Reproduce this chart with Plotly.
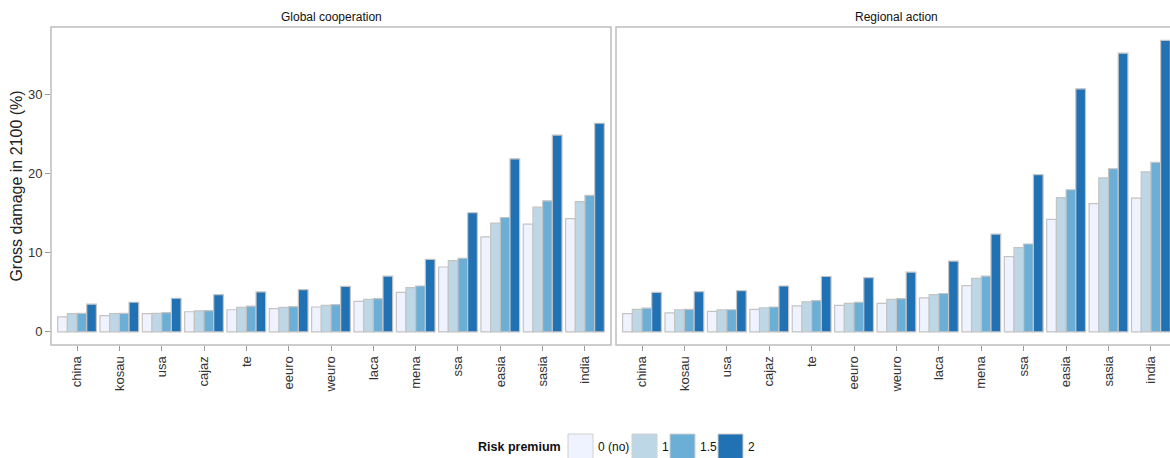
import plotly.graph_objects as go

regions = ["china", "kosau", "usa", "cajaz", "te", "eeuro", "weuro", "laca",
           "mena", "ssa", "easia", "sasia", "india"]
premium_labels = ["0 (no)", "1", "1.5", "2"]
premium_colors = ["#eff3ff", "#bdd7e7", "#6baed6", "#2171b5"]
panel_titles = ["Global cooperation", "Regional action"]

global_p0 = [1.9, 2.05, 2.3, 2.55, 2.8, 2.95, 3.15, 3.85, 5.0, 8.2, 12.0, 13.6, 14.3]
global_p1 = [2.3, 2.3, 2.35, 2.65, 3.1, 3.1, 3.35, 4.1, 5.6, 9.0, 13.75, 15.75, 16.45]
global_p15 = [2.35, 2.35, 2.45, 2.7, 3.25, 3.2, 3.45, 4.2, 5.8, 9.3, 14.45, 16.55, 17.25]
global_p2 = [3.5, 3.75, 4.25, 4.7, 5.05, 5.35, 5.75, 7.05, 9.15, 15.05, 21.85, 24.85, 26.35]

regional_p0 = [2.3, 2.4, 2.6, 2.85, 3.3, 3.35, 3.6, 4.3, 5.85, 9.5, 14.2, 16.2, 16.9]
regional_p1 = [2.85, 2.8, 2.8, 3.05, 3.8, 3.6, 4.1, 4.7, 6.75, 10.65, 16.95, 19.45, 20.2]
regional_p15 = [3.0, 2.85, 2.8, 3.15, 3.95, 3.75, 4.2, 4.85, 7.05, 11.1, 17.95, 20.6, 21.4]
regional_p2 = [5.0, 5.1, 5.2, 5.8, 7.0, 6.85, 7.55, 8.95, 12.35, 19.85, 30.7, 35.2, 36.8]

y_ticks = [0, 10, 20, 30]

global_series = [global_p0, global_p1, global_p15, global_p2]
regional_series = [regional_p0, regional_p1, regional_p15, regional_p2]

W, H = 1170, 458
L, R, T, B = 51, 0, 27, 113
pw = W - L - R
ph = H - T - B


def px(x):  # page pixel -> paper x
    return (x - L) / pw


def py(y):  # page pixel -> paper y
    return (H - B - y) / ph


FONT = "Liberation Sans, Arial, sans-serif"
OUTLINE = "#c4c4c4"

fig = go.Figure()
for panel, series in enumerate([global_series, regional_series]):
    xa = "x" if panel == 0 else "x2"
    ya = "y" if panel == 0 else "y2"
    for label, color, vals in zip(premium_labels, premium_colors, series):
        fig.add_trace(go.Bar(
            x=regions, y=vals, name=label, xaxis=xa, yaxis=ya,
            marker=dict(color=color, line=dict(color=OUTLINE, width=1.2)),
            showlegend=False, offsetgroup=label,
        ))

axis_common = dict(
    type="category", categoryorder="array", categoryarray=regions,
    showgrid=False, zeroline=False, showline=False, automargin=False,
    ticks="outside", ticklen=5, tickcolor="#9a9a9a", tickwidth=1,
    tickangle=-90, tickfont=dict(size=13, color="#333333", family=FONT),
)

fig.update_layout(
    width=W, height=H,
    margin=dict(l=L, r=R, t=T, b=B, autoexpand=False),
    paper_bgcolor="white", plot_bgcolor="white",
    barmode="group", bargap=0.085, bargroupgap=0,
    font=dict(family=FONT, color="#222222"),
    xaxis=dict(domain=[0, px(611)], range=[-0.615, 12.615], **axis_common),
    xaxis2=dict(domain=[px(616), 1.0], range=[-0.613, 12.45], anchor="y2", **axis_common),
    yaxis=dict(range=[-1.65, 38.5], tickvals=y_ticks, showgrid=False, zeroline=False,
               showline=False, ticks="outside", ticklen=5, tickcolor="#9a9a9a",
               automargin=False,
               tickfont=dict(size=13, color="#333333", family=FONT),
               title=dict(text="Gross damage in 2100 (%)",
                          font=dict(size=16, color="#222222", family=FONT), standoff=1)),
    yaxis2=dict(range=[-1.65, 38.5], anchor="x2", showticklabels=False, showgrid=False,
                zeroline=False, showline=False, ticks="", automargin=False),
)

# panel frames
frame = dict(type="rect", xref="paper", yref="paper", line=dict(color="#bdbdbd", width=1.5),
             fillcolor="rgba(0,0,0,0)", layer="above")
fig.add_shape(x0=0, x1=px(611), y0=0, y1=1, **frame)
fig.add_shape(x0=px(616), x1=px(1178), y0=0, y1=1, **frame)

# panel titles
for title, (a, b) in zip(panel_titles, [(51, 611), (616, 1178)]):
    fig.add_annotation(text=title, xref="paper", yref="paper", x=px((a + b) / 2), y=py(17),
                       showarrow=False, font=dict(size=12, color="#111111", family=FONT),
                       xanchor="center", yanchor="middle")

# legend
legend_y = 447
fig.add_annotation(text="<b>Risk premium</b>", xref="paper", yref="paper", x=px(563), y=py(legend_y),
                   showarrow=False, xanchor="right", yanchor="middle",
                   font=dict(size=12.5, color="#111111", family=FONT))
sw_x = [568, 632, 670, 718]
for label, color, x0 in zip(premium_labels, premium_colors, sw_x):
    fig.add_shape(type="rect", xref="paper", yref="paper", x0=px(x0), x1=px(x0 + 25),
                  y0=py(462), y1=py(434), fillcolor=color, line=dict(color="#d0d0d0", width=1))
    fig.add_annotation(text=label, xref="paper", yref="paper", x=px(x0 + 28), y=py(legend_y),
                       showarrow=False, xanchor="left", yanchor="middle",
                       font=dict(size=12, color="#111111", family=FONT))

fig.write_html(
    "out.html",
    config={"displayModeBar": False},
    post_script="document.body.style.margin='0';document.body.style.overflow='hidden';"
                "document.documentElement.style.overflow='hidden';",
)
